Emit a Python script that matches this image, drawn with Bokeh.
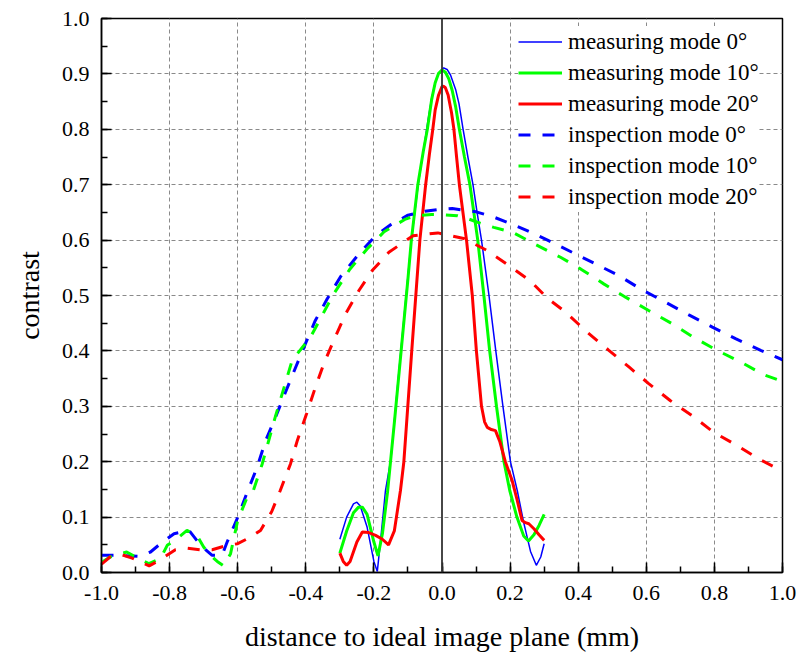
from bokeh.plotting import figure
from bokeh.models import FixedTicker, PrintfTickFormatter, Span, Legend, LegendItem
from bokeh.embed import file_html
from bokeh.resources import INLINE

# ---------------- data ----------------
meas0_x = [-0.30, -0.28, -0.26, -0.25, -0.24, -0.22, -0.20, -0.19, -0.18, -0.166, -0.15, -0.13, -0.11,
           -0.09, -0.07, -0.05, -0.04, -0.03, -0.02, -0.01, 0.005, 0.015, 0.025, 0.04, 0.05, 0.062,
           0.076, 0.091, 0.103, 0.116, 0.138, 0.158, 0.179, 0.201, 0.221, 0.24, 0.26, 0.277, 0.29, 0.30]
meas0_y = [0.060, 0.100, 0.124, 0.127, 0.120, 0.082, 0.020, 0.002, 0.060, 0.148, 0.205, 0.34, 0.47,
           0.60, 0.70, 0.78, 0.82, 0.857, 0.884, 0.901, 0.911, 0.908, 0.898, 0.872, 0.846, 0.80,
           0.75, 0.70, 0.65, 0.60, 0.50, 0.40, 0.30, 0.20, 0.148, 0.09, 0.038, 0.013, 0.028, 0.052]

meas10_x = [-0.30, -0.28, -0.26, -0.245, -0.234, -0.22, -0.20, -0.188, -0.175, -0.16, -0.14, -0.12, -0.10,
            -0.09, -0.071, -0.055, -0.043, -0.03, -0.02, -0.01, 0.0, 0.01, 0.02, 0.03, 0.04, 0.051,
            0.066, 0.082, 0.105, 0.123, 0.14, 0.16, 0.182, 0.199, 0.22, 0.24, 0.254, 0.27, 0.285, 0.30]
meas10_y = [0.035, 0.075, 0.108, 0.118, 0.118, 0.105, 0.055, 0.030, 0.070, 0.145, 0.27, 0.40, 0.53,
            0.60, 0.70, 0.76, 0.80, 0.855, 0.884, 0.901, 0.907, 0.903, 0.891, 0.870, 0.841, 0.80,
            0.75, 0.70, 0.60, 0.50, 0.40, 0.30, 0.20, 0.148, 0.10, 0.066, 0.057, 0.068, 0.085, 0.105]

meas20_x = [-0.30, -0.29, -0.28, -0.27, -0.25, -0.234, -0.215, -0.195, -0.175, -0.157, -0.14, -0.122,
            -0.112, -0.09, -0.065, -0.048, -0.037, -0.027, -0.02, -0.01, 0.0, 0.004, 0.01, 0.018,
            0.028, 0.035, 0.042, 0.051, 0.072, 0.089, 0.101, 0.116, 0.125, 0.133, 0.145, 0.157,
            0.17, 0.186, 0.206, 0.221, 0.235, 0.245, 0.255, 0.27, 0.285, 0.30]
meas20_y = [0.035, 0.020, 0.013, 0.020, 0.055, 0.073, 0.072, 0.067, 0.060, 0.050, 0.075, 0.148,
            0.20, 0.39, 0.60, 0.70, 0.755, 0.80, 0.835, 0.862, 0.877, 0.878, 0.875, 0.862,
            0.83, 0.80, 0.755, 0.70, 0.60, 0.50, 0.40, 0.30, 0.272, 0.262, 0.258, 0.256,
            0.236, 0.20, 0.166, 0.13, 0.094, 0.090, 0.088, 0.079, 0.068, 0.058]

insp0_x = [-1.0, -0.95, -0.89, -0.856, -0.827, -0.787, -0.743, -0.709, -0.675, -0.646, -0.631, -0.599,
           -0.572, -0.543, -0.518, -0.489, -0.46, -0.43, -0.401, -0.372, -0.337, -0.298, -0.244,
           -0.195, -0.15, -0.10, -0.05, 0.0, 0.03, 0.10, 0.15, 0.20, 0.25, 0.31, 0.382, 0.451,
           0.519, 0.588, 0.656, 0.725, 0.794, 0.862, 0.936, 1.0]
insp0_y = [0.031, 0.031, 0.029, 0.037, 0.052, 0.070, 0.076, 0.049, 0.031, 0.031, 0.055, 0.101,
           0.145, 0.19, 0.238, 0.28, 0.325, 0.37, 0.413, 0.455, 0.494, 0.534, 0.575,
           0.608, 0.628, 0.645, 0.652, 0.656, 0.657, 0.651, 0.642, 0.630, 0.617, 0.600, 0.578, 0.557,
           0.536, 0.51, 0.488, 0.465, 0.443, 0.422, 0.401, 0.384]

insp10_x = [-1.0, -0.975, -0.926, -0.897, -0.861, -0.827, -0.807, -0.778, -0.749, -0.72, -0.70, -0.68,
            -0.66, -0.641, -0.621, -0.60, -0.572, -0.554, -0.528, -0.49, -0.44, -0.386, -0.318,
            -0.27, -0.22, -0.17, -0.107, -0.078, -0.03, 0.0, 0.045, 0.079, 0.118, 0.152, 0.208,
            0.275, 0.348, 0.407, 0.475, 0.539, 0.607, 0.676, 0.74, 0.808, 0.877, 0.945, 1.0]
insp10_y = [0.018, 0.028, 0.037, 0.027, 0.016, 0.025, 0.049, 0.061, 0.076, 0.067, 0.046, 0.031,
            0.020, 0.012, 0.034, 0.094, 0.136, 0.148, 0.196, 0.28, 0.383, 0.425, 0.503,
            0.548, 0.584, 0.615, 0.638, 0.644, 0.646, 0.646, 0.644, 0.638, 0.629, 0.623, 0.614,
            0.592, 0.569, 0.548, 0.521, 0.497, 0.473, 0.449, 0.424, 0.401, 0.380, 0.357, 0.345]

insp20_x = [-1.0, -0.975, -0.94, -0.91, -0.86, -0.83, -0.783, -0.753, -0.709, -0.675, -0.631, -0.60,
            -0.562, -0.533, -0.50, -0.475, -0.445, -0.425, -0.398, -0.372, -0.347, -0.318, -0.283,
            -0.244, -0.205, -0.156, -0.085, -0.012, 0.064, 0.13, 0.194, 0.258, 0.31, 0.363, 0.426,
            0.49, 0.549, 0.607, 0.671, 0.735, 0.798, 0.867, 0.93, 1.0]
insp20_y = [0.015, 0.028, 0.032, 0.026, 0.012, 0.022, 0.041, 0.044, 0.041, 0.041, 0.049, 0.052,
            0.064, 0.076, 0.110, 0.148, 0.196, 0.238, 0.286, 0.334, 0.377, 0.419, 0.467,
            0.509, 0.545, 0.578, 0.608, 0.613, 0.603, 0.582, 0.555, 0.527, 0.495, 0.470, 0.434,
            0.401, 0.371, 0.341, 0.310, 0.283, 0.253, 0.229, 0.205, 0.183]

series_labels = ["measuring mode 0°", "measuring mode 10°", "measuring mode 20°",
                 "inspection mode 0°", "inspection mode 10°", "inspection mode 20°"]

x_ticks = [-1.0, -0.8, -0.6, -0.4, -0.2, 0.0, 0.2, 0.4, 0.6, 0.8, 1.0]
y_ticks = [0.0, 0.1, 0.2, 0.3, 0.4, 0.5, 0.6, 0.7, 0.8, 0.9, 1.0]

FONT = "Liberation Serif"

p = figure(width=799, height=656, x_range=(-1.0, 1.0), y_range=(0.0, 1.0),
           output_backend="svg", toolbar_location=None,
           min_border_left=101, min_border_right=17, min_border_top=18, min_border_bottom=84)

p.outline_line_color = "black"
p.outline_line_width = 1.5

for ax in (p.xaxis[0], p.yaxis[0]):
    ax.axis_line_width = 1.5
    ax.major_tick_line_width = 1.5
    ax.minor_tick_line_width = 1.5
    ax.major_tick_in = 10
    ax.major_tick_out = 0
    ax.minor_tick_in = 6
    ax.minor_tick_out = 0
    ax.major_label_text_font = FONT
    ax.major_label_text_font_size = "22px"
    ax.major_label_text_color = "black"
    ax.axis_label_text_font = FONT
    ax.axis_label_text_font_size = "28px"
    ax.axis_label_text_font_style = "normal"
    ax.axis_label_text_color = "black"
    ax.formatter = PrintfTickFormatter(format="%.1f")

p.xaxis[0].ticker = FixedTicker(ticks=x_ticks, minor_ticks=[round(-1.0 + 0.1 * i, 2) for i in range(21)])
p.yaxis[0].ticker = FixedTicker(ticks=y_ticks, minor_ticks=[round(0.05 * i, 3) for i in range(21)])
p.xaxis[0].axis_label = "distance to ideal image plane (mm)"
p.yaxis[0].axis_label = "contrast"
p.xaxis[0].major_label_standoff = 13
p.yaxis[0].major_label_standoff = 12
p.xaxis[0].axis_label_standoff = 18
p.yaxis[0].axis_label_standoff = 14

p.xgrid.ticker = FixedTicker(ticks=[-0.8, -0.6, -0.4, -0.2, 0.2, 0.4, 0.6, 0.8])
p.ygrid.ticker = FixedTicker(ticks=[0.1, 0.2, 0.3, 0.4, 0.5, 0.6, 0.7, 0.8, 0.9])
for g in (p.xgrid, p.ygrid):
    g.grid_line_color = "#8a8a8a"
    g.grid_line_dash = "4 3"
    g.grid_line_width = 1

p.add_layout(Span(location=0, dimension="height", line_color="#333333", line_width=1.8))

r1 = p.line(meas0_x, meas0_y, line_color="#0000ff", line_width=1.5)
r2 = p.line(meas10_x, meas10_y, line_color="#00ff00", line_width=3)
r3 = p.line(meas20_x, meas20_y, line_color="#ff0000", line_width=3)
r4 = p.line(insp0_x, insp0_y, line_color="#0000ff", line_width=3, line_dash="12 12")
r5 = p.line(insp10_x, insp10_y, line_color="#00ff00", line_width=3, line_dash="12 12")
r6 = p.line(insp20_x, insp20_y, line_color="#ff0000", line_width=3, line_dash="12 12")

legend = Legend(items=[LegendItem(label=lab, renderers=[r]) for lab, r in
                       zip(series_labels, [r1, r2, r3, r4, r5, r6])],
                location=(417, 360))
legend.label_text_font = FONT
legend.label_text_font_size = "23px"
legend.label_text_color = "black"
legend.glyph_width = 44
legend.glyph_height = 31
legend.label_height = 31
legend.spacing = 0
legend.padding = 5
legend.label_standoff = 6
legend.border_line_color = None
legend.background_fill_color = "white"
legend.background_fill_alpha = 1.0
p.add_layout(legend, "center")

open("out.html", "w").write(file_html(p, INLINE))
